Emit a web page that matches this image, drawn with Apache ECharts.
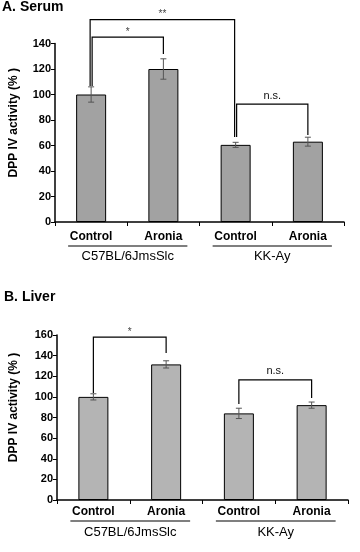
<!DOCTYPE html>
<html><head><meta charset="utf-8">
<script src="https://cdn.jsdelivr.net/npm/echarts@6/dist/echarts.min.js"></script>
<style>html,body{margin:0;padding:0;background:#fff}#c{width:360px;height:552px}</style>
</head><body><div id="c"></div>
<script>
const categories = ['Control', 'Aronia', 'Control', 'Aronia'];
const groupLabels = ['C57BL/6JmsSlc', 'KK-Ay'];
const groupSpans = [[0, 1], [2, 3]];
const serumValues = [100, 120, 60.5, 63];
const serumErrors = [6, 8, 2, 3.5];
const liverValues = [100, 131.5, 84, 92];
const liverErrors = [3, 3.5, 5, 3];
const serumTickStep = 20, serumMax = 140;
const liverTickStep = 20, liverMax = 160;
// [leftIndex, rightIndex, topValue, leftFootValue, rightFootValue, label]
const serumBrackets = [[0, 1, 145, 106.7, 131.8, '*'], [0, 2, 158.8, 106.7, 66.7, '**'], [2, 3, 92.5, 66.7, 68.2, 'n.s.']];
const liverBrackets = [[0, 1, 158, 103.8, 142.6, '*'], [2, 3, 116.4, 93, 99, 'n.s.']];

const FONT = "'Liberation Sans', Arial, sans-serif";
const serumFootShift = [[1, 0], [-1, -1], [1, 0]];
const liverFootShift = [[0, 0], [0, 0]];

function bracketSeries(ai, data, shifts) {
  return {
    type: 'custom', xAxisIndex: ai, yAxisIndex: ai, clip: false, z: 6, silent: true,
    data: data.map(d => [d[0], d[2]]),
    renderItem(params, api) {
      const d = data[params.dataIndex], s = shifts[params.dataIndex];
      const pL = api.coord([d[0], d[3]]), pR = api.coord([d[1], d[4]]);
      const top = api.coord([d[0], d[2]])[1];
      const xL = pL[0] + s[0], xR = pR[0] + s[1];
      const isStar = d[5].indexOf('*') === 0;
      return {
        type: 'group', children: [
          { type: 'polyline', shape: { points: [[xL, pL[1]], [xL, top], [xR, top], [xR, pR[1]]] },
            style: { stroke: '#000', lineWidth: 1.2, fill: null } },
          { type: 'text', x: (xL + xR) / 2, y: top - (isStar ? 0 : 3),
            style: { text: d[5], align: 'center', verticalAlign: 'bottom', fill: isStar ? '#444' : '#111',
              font: (isStar ? '10px ' : '11px ') + FONT } }
        ]
      };
    }
  };
}

function errorSeries(ai, vals, errs) {
  return {
    type: 'custom', xAxisIndex: ai, yAxisIndex: ai, z: 5, silent: true,
    data: vals.map((v, i) => [i, v, errs[i]]),
    renderItem(params, api) {
      const x = api.value(0), v = api.value(1), e = api.value(2);
      const hi = api.coord([x, v + e]), lo = api.coord([x, v - e]);
      const w = 3, st = { stroke: '#555', lineWidth: 1 };
      return {
        type: 'group', children: [
          { type: 'line', shape: { x1: hi[0], y1: hi[1], x2: lo[0], y2: lo[1] }, style: st },
          { type: 'line', shape: { x1: hi[0] - w, y1: hi[1], x2: hi[0] + w, y2: hi[1] }, style: st },
          { type: 'line', shape: { x1: lo[0] - w, y1: lo[1], x2: lo[0] + w, y2: lo[1] }, style: st }
        ]
      };
    }
  };
}

function groupSeries(ai, lineOff, textOff) {
  return {
    type: 'custom', xAxisIndex: ai, yAxisIndex: ai, clip: false, z: 6, silent: true,
    data: groupSpans.map(g => [g[0], 0]),
    renderItem(params, api) {
      const g = groupSpans[params.dataIndex];
      const a = api.coord([g[0], 0]), b = api.coord([g[1], 0]);
      const y = a[1];
      const x1 = a[0] - 23, x2 = b[0] + 24;
      return {
        type: 'group', children: [
          { type: 'line', shape: { x1: x1, y1: y + lineOff, x2: x2, y2: y + lineOff }, style: { stroke: '#000', lineWidth: 1.2 } },
          { type: 'text', x: (x1 + x2) / 2, y: y + textOff,
            style: { text: groupLabels[params.dataIndex], align: 'center', verticalAlign: 'middle', fill: '#000', font: '13px ' + FONT } }
        ]
      };
    }
  };
}

function xAxis(gi, margin) {
  return {
    type: 'category', gridIndex: gi, data: categories,
    axisLine: { lineStyle: { color: '#000', width: 1.5 } },
    axisTick: { show: true, length: 4, lineStyle: { color: '#000', width: 1 } },
    axisLabel: { color: '#000', fontFamily: FONT, fontWeight: 'bold', fontSize: 12, margin: margin, interval: 0 }
  };
}
function yAxis(gi, max, step, gap) {
  return {
    type: 'value', gridIndex: gi, min: 0, max: max, interval: step,
    name: 'DPP IV activity (% )', nameLocation: 'middle', nameGap: gap, nameRotate: 90,
    nameTextStyle: { color: '#000', fontFamily: FONT, fontWeight: 'bold', fontSize: 12, padding: [0, 0, 0, 20] },
    axisLine: { show: true, lineStyle: { color: '#000', width: 1.5 } },
    axisTick: { show: true, length: 4, lineStyle: { color: '#000', width: 1 } },
    axisLabel: { color: '#000', fontFamily: FONT, fontWeight: 'bold', fontSize: 11, margin: 4 },
    splitLine: { show: false }
  };
}

const chart = echarts.init(document.getElementById('c'), null, { renderer: 'canvas' });
chart.setOption({
  animation: false,
  backgroundColor: '#fff',
  title: [
    { text: 'A. Serum', left: 2, top: 0, padding: 0, textStyle: { fontFamily: FONT, fontWeight: 'bold', fontSize: 14, color: '#000' } },
    { text: 'B. Liver', left: 4, top: 290, padding: 0, textStyle: { fontFamily: FONT, fontWeight: 'bold', fontSize: 14, color: '#000' } }
  ],
  grid: [
    { left: 47, right: 16, top: 43.5, bottom: 330 },
    { left: 50, right: 12, top: 335, bottom: 52 }
  ],
  xAxis: [xAxis(0, 9), xAxis(1, 6)],
  yAxis: [yAxis(0, serumMax, serumTickStep, 35), yAxis(1, liverMax, liverTickStep, 37)],
  series: [
    { type: 'bar', xAxisIndex: 0, yAxisIndex: 0, data: serumValues, barWidth: 30,
      itemStyle: { color: '#a2a2a2', borderColor: '#000', borderWidth: 1 } },
    { type: 'bar', xAxisIndex: 1, yAxisIndex: 1, data: liverValues, barWidth: 30,
      itemStyle: { color: '#b4b4b4', borderColor: '#000', borderWidth: 1 } },
    errorSeries(0, serumValues, serumErrors),
    errorSeries(1, liverValues, liverErrors),
    bracketSeries(0, serumBrackets, serumFootShift),
    bracketSeries(1, liverBrackets, liverFootShift),
    groupSeries(0, 24, 34),
    groupSeries(1, 21, 32)
  ]
});
</script></body></html>
